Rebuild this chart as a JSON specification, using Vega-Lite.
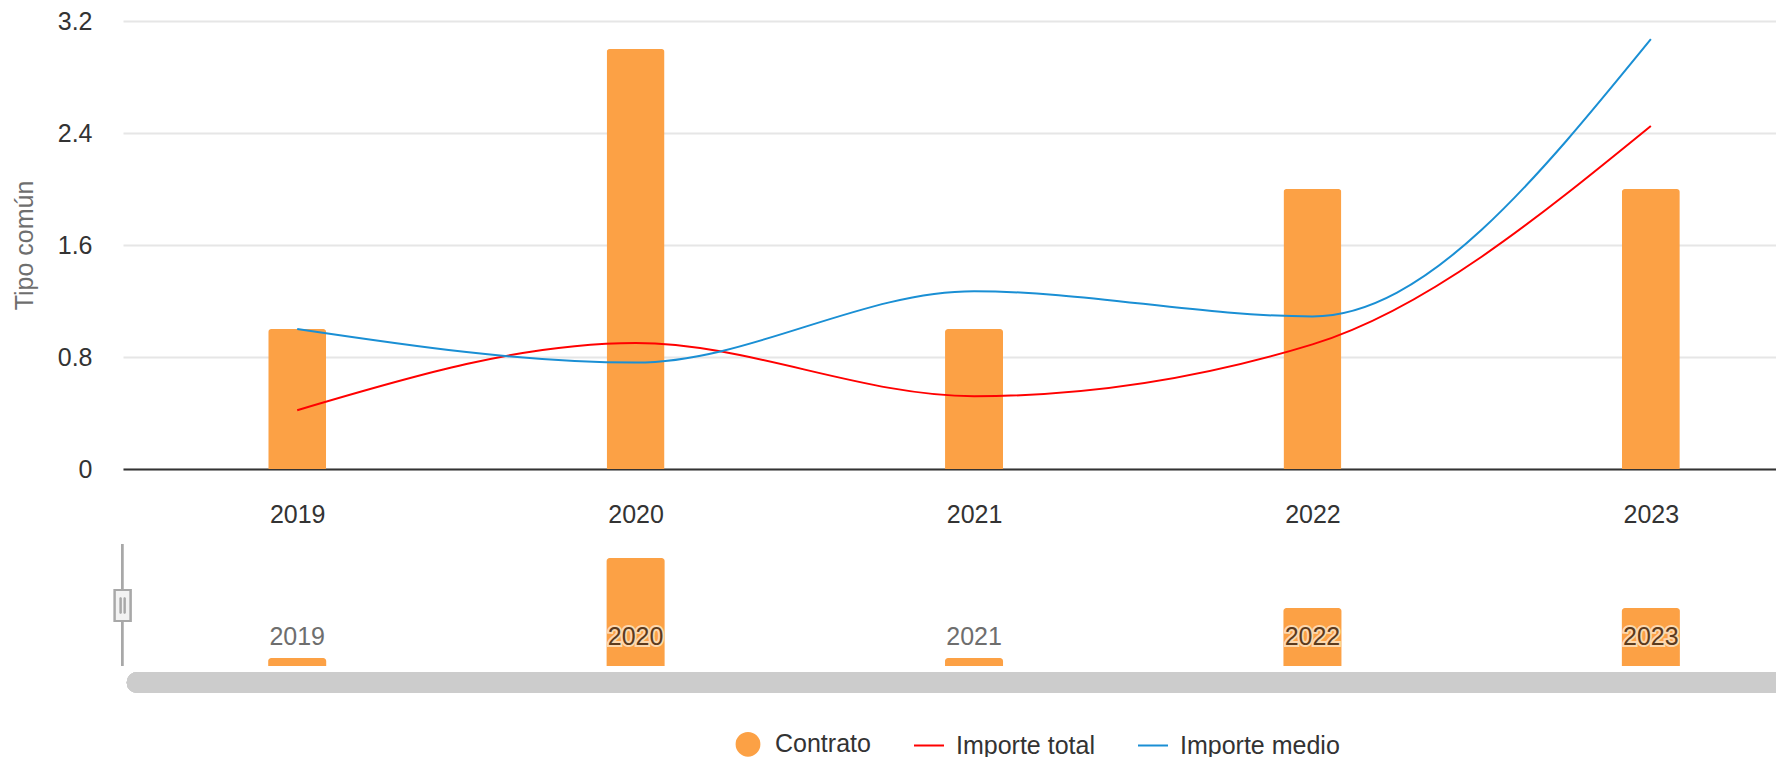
{
  "$schema": "https://vega.github.io/schema/vega-lite/v6.json",
  "width": 1653,
  "height": 448,
  "autosize": {"type": "none"},
  "padding": {"left": 123, "top": 21, "right": 0, "bottom": 288},
  "config": {"font": "Liberation Sans", "view": {"stroke": null}},
  "data": {"values": [
    {"year": 2019, "contrato": 1, "total": 0.42, "medio": 1.0},
    {"year": 2020, "contrato": 3, "total": 0.90, "medio": 0.76},
    {"year": 2021, "contrato": 1, "total": 0.52, "medio": 1.27},
    {"year": 2022, "contrato": 2, "total": 0.89, "medio": 1.09},
    {"year": 2023, "contrato": 2, "total": 2.45, "medio": 3.07}
  ]},
  "resolve": {"scale": {"y": "independent"}},
  "layer": [
    {
      "layer": [
        {
          "mark": {"type": "bar", "size": 58, "cornerRadiusTopLeft": 3, "cornerRadiusTopRight": 3},
          "encoding": {
            "x": {"field": "year", "type": "quantitative",
              "scale": {"domain": [2018.5, 2023.355], "nice": false, "zero": false},
              "axis": {"values": [2019, 2020, 2021, 2022, 2023], "format": "d", "title": null, "grid": false, "ticks": false,
                "domainColor": "#333333", "domainWidth": 2, "labelFontSize": 25, "labelColor": "#333333", "labelPadding": 33, "labelFlush": false}},
            "y": {"field": "contrato", "type": "quantitative", "title": "Tipo común",
              "scale": {"domain": [0, 3.2], "nice": false},
              "axis": {"values": [0, 0.8, 1.6, 2.4, 3.2], "format": ".1~f", "domain": false, "ticks": false,
                "gridColor": "#e6e6e6", "gridWidth": 2, "labelFontSize": 25, "labelColor": "#333333", "labelPadding": 31,
                "titleFontSize": 25, "titleFontWeight": "normal", "titleColor": "#6e6e6e", "titlePadding": 20}},
            "color": {"datum": "Contrato", "type": "nominal",
              "scale": {"domain": ["Contrato", "Importe total", "Importe medio"], "range": ["#fca145", "#ff0000", "#1a8fd4"]},
              "legend": {"title": null, "orient": "none", "legendX": 609, "legendY": 707, "direction": "horizontal",
                "labelFontSize": 25, "labelColor": "#333333", "labelOffset": 11, "columnPadding": 39, "symbolSize": 900, "padding": 0,
                "encode": {"symbols": {"update": {
                  "shape": {"signal": "datum.value === 'Contrato' ? 'circle' : 'stroke'"},
                  "size": {"signal": "datum.value === 'Contrato' ? 520 : 900"},
                  "strokeWidth": {"value": 2},
                  "fill": {"signal": "datum.value === 'Contrato' ? '#fca145' : 'transparent'"},
                  "stroke": {"signal": "datum.value === 'Contrato' ? 'transparent' : (datum.value === 'Importe total' ? '#ff0000' : '#1a8fd4')"}
                }}}}}
          }
        },
        {
          "mark": {"type": "line", "interpolate": "monotone", "strokeWidth": 2},
          "encoding": {
            "x": {"field": "year", "type": "quantitative"},
            "y": {"field": "total", "type": "quantitative", "title": "Tipo común"},
            "color": {"datum": "Importe total", "type": "nominal"}
          }
        },
        {
          "mark": {"type": "line", "interpolate": "monotone", "strokeWidth": 2},
          "encoding": {
            "x": {"field": "year", "type": "quantitative"},
            "y": {"field": "medio", "type": "quantitative", "title": "Tipo común"},
            "color": {"datum": "Importe medio", "type": "nominal"}
          }
        }
      ]
    },
    {
      "layer": [
        {
          "mark": {"type": "rule", "strokeWidth": 21, "strokeCap": "round", "color": "#cccccc"},
          "encoding": {
            "x": {"datum": 2018.527, "type": "quantitative"},
            "x2": {"datum": 2023.6},
            "y": {"datum": 0.51, "type": "quantitative", "scale": {"domain": [4.78, 13.74], "nice": false, "zero": false}, "axis": null}
          }
        },
        {
          "mark": {"type": "bar", "size": 58, "color": "#fca145", "cornerRadiusTopLeft": 3, "cornerRadiusTopRight": 3},
          "encoding": {
            "x": {"field": "year", "type": "quantitative"},
            "y": {"field": "contrato", "type": "quantitative", "axis": null},
            "y2": {"datum": 0.84}
          }
        },
        {
          "transform": [{"filter": "datum.contrato >= 2"}],
          "mark": {"type": "text", "fontSize": 25, "baseline": "middle", "align": "center", "stroke": "#fcd8ae", "strokeWidth": 4, "fill": "#fcd8ae"},
          "encoding": {
            "x": {"field": "year", "type": "quantitative"},
            "y": {"datum": 1.42, "type": "quantitative"},
            "text": {"field": "year", "type": "nominal"}
          }
        },
        {
          "mark": {"type": "text", "fontSize": 25, "baseline": "middle", "align": "center"},
          "encoding": {
            "x": {"field": "year", "type": "quantitative"},
            "y": {"datum": 1.42, "type": "quantitative"},
            "text": {"field": "year", "type": "nominal"},
            "color": {"condition": {"test": "datum.contrato >= 2", "value": "#5b3a1c"}, "value": "#6e6e6e"}
          }
        },
        {
          "mark": {"type": "rule", "strokeWidth": 2, "color": "#a8a8a8"},
          "encoding": {
            "x": {"datum": 2018.483, "type": "quantitative"},
            "y": {"datum": 0.84, "type": "quantitative"},
            "y2": {"datum": 3.28}
          }
        },
        {
          "mark": {"type": "point", "shape": "M-0.5,-1H0.5V1H-0.5Z", "size": 961, "filled": true, "fill": "#f2f2f2", "stroke": "#a8a8a8", "strokeWidth": 2, "opacity": 1},
          "encoding": {
            "x": {"datum": 2018.484, "type": "quantitative"},
            "y": {"datum": 2.05, "type": "quantitative"}
          }
        },
        {
          "mark": {"type": "point", "shape": "M-0.13,-0.5V0.5M0.13,-0.5V0.5", "size": 961, "filled": false, "stroke": "#a8a8a8", "strokeWidth": 1.5, "opacity": 1},
          "encoding": {
            "x": {"datum": 2018.484, "type": "quantitative"},
            "y": {"datum": 2.05, "type": "quantitative"}
          }
        }
      ]
    }
  ]
}
